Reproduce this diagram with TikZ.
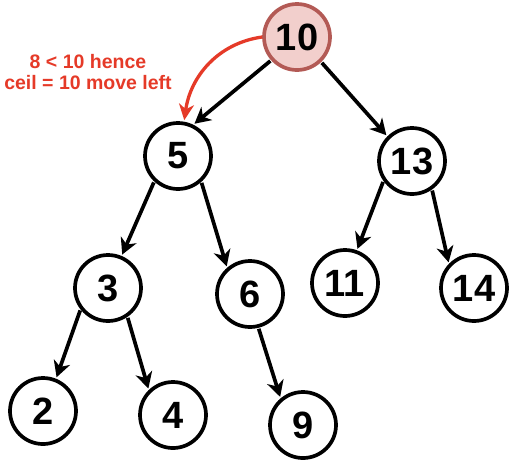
\documentclass[tikz,border=0pt]{standalone}
\usepackage{fontspec}
\setmainfont{Liberation Sans}
\usetikzlibrary{arrows.meta}
\definecolor{noteRed}{HTML}{E53A28}
\definecolor{rootFill}{HTML}{F2CFCC}
\definecolor{rootLine}{HTML}{B35A55}
\begin{document}
\begin{tikzpicture}[x=1pt,y=-1pt,
  key/.style={circle, draw=black, fill=white, line width=3.7pt, minimum size=66pt,
    inner sep=0pt, font=\fontsize{38}{40}\selectfont\bfseries},
  rootkey/.style={key, draw=rootLine, fill=rootFill},
  link/.style={line width=3.7pt,
    -{Stealth[length=16pt,width=17pt,inset=5pt]}, shorten >=1.5pt, shorten <=1pt},
  hint/.style={line width=3.3pt, draw=noteRed,
    -{Stealth[length=16pt,width=15pt,inset=5pt]}, shorten >=1.5pt},
  note/.style={text=noteRed, align=center, font=\fontsize{19.5}{21.5}\selectfont\bfseries}
]
\useasboundingbox (0,0) rectangle (510,464);

% binary search tree
\node[rootkey] (n10) at (297,37)  {10};
\node[key]     (n5)  at (178,156) {5};
\node[key]     (n13) at (412,161) {13};
\node[key]     (n3)  at (108,288) {3};
\node[key]     (n6)  at (250,294) {6};
\node[key]     (n11) at (345,283) {11};
\node[key]     (n14) at (474,288) {14};
\node[key]     (n2)  at (43,411)  {2};
\node[key]     (n4)  at (173,415) {4};
\node[key]     (n9)  at (303,425) {9};

% left children leave at the lower left, right children at the lower right
\draw[link] (n10.222) -- (n5.64);
\draw[link] (n10.-46) -- (n13.135);
\draw[link] (n5.227)  -- (n3.67);
\draw[link] (n5.-48)  -- (n6.131);
\draw[link] (n13.215) -- (n11.70);
\draw[link] (n13.-55) -- (n14.136);
\draw[link] (n3.218)  -- (n2.68);
\draw[link] (n3.-56)  -- (n4.134);
\draw[link] (n6.-76)  -- (n9.130);

% search step annotation
\draw[hint] (n10.west) to[out=188,in=82] (n5.80);
\node[note] (why) at (88,72) {8 < 10 hence\\ceil = 10 move left};
\end{tikzpicture}
\end{document}
